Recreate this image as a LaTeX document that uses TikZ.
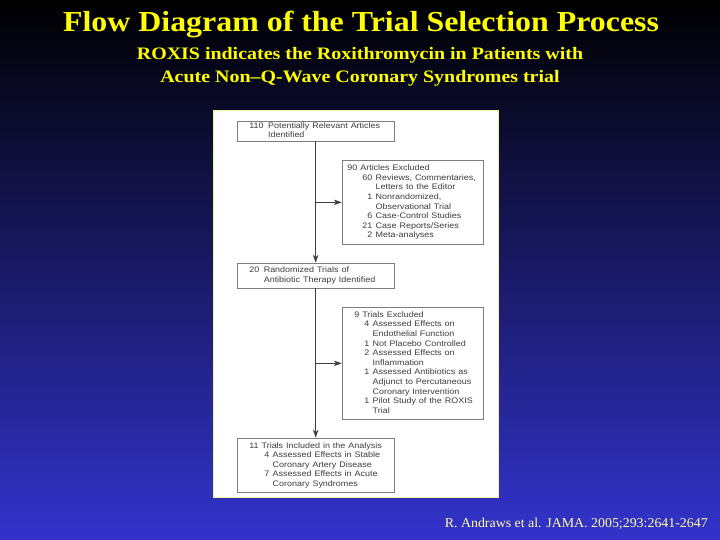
\documentclass[tikz,border=0pt]{standalone}
\usepackage{graphicx}
\usepackage{fontspec}
\setmainfont{Liberation Serif}
\newfontfamily\boxfont{Liberation Sans}
\usetikzlibrary{arrows.meta,positioning}

\definecolor{slideblue}{RGB}{51,51,204}
\definecolor{titleyellow}{RGB}{255,255,0}
\definecolor{citeyellow}{RGB}{255,255,170}
\definecolor{panelrim}{RGB}{240,240,150}
\definecolor{boxtext}{RGB}{60,60,60}
\definecolor{boxline}{RGB}{125,125,125}

% slide text is stretched sideways
\newcommand{\wide}[2][1.12]{\scalebox{#1}[1]{#2}}

\begin{document}
\begin{tikzpicture}[x=1pt,y=-1pt,
    titletext/.style={text=titleyellow, anchor=base, inner sep=0pt},
    flowbox/.style={draw=boxline, line width=0.7pt, anchor=north west, text=boxtext,
      font=\boxfont\fontsize{8}{9.6}\selectfont, inner ysep=0pt},
    flowarrow/.style={-{Stealth[length=8pt,width=5.5pt]}, draw=boxline!50!black, line width=0.6pt}]

    % Slide background and white panel
    \shade[top color=black, bottom color=slideblue] (0,0) rectangle (720,540);
    \filldraw[draw=panelrim, fill=white, line width=1pt] (213.5,110.5) rectangle (498.5,497.5);

    % Headings
    \node[titletext, font=\bfseries\fontsize{29}{30}\selectfont] (title) at (361,32)
        {\wide[1.1]{Flow Diagram of the Trial Selection Process}};
    \node[titletext, font=\bfseries\fontsize{17.5}{20}\selectfont] (subone) at (360,60)
        {\wide[1.14]{ROXIS indicates the Roxithromycin in Patients with}};
    \node[titletext, font=\bfseries\fontsize{17.5}{20}\selectfont] (subtwo) at (360,83)
        {\wide[1.14]{Acute Non--Q-Wave Coronary Syndromes trial}};
    \node[text=citeyellow, anchor=base east, inner sep=0pt, font=\fontsize{13.5}{15}\selectfont] (cite) at (708,527)
        {\wide[1.03]{R. Andraws et al. JAMA. 2005;293:2641-2647}};

    % Main column
    \node[flowbox, minimum width=157.3pt, minimum height=20pt, inner xsep=12.3pt, text width=132.7pt]
        (found) at (236.7,120.7)
        {\noindent\wide{\begin{tabular}{@{}r@{\hspace{4pt}}l@{}}
          110 & Potentially Relevant Articles\\
              & Identified
        \end{tabular}}};
    \node[flowbox, minimum width=157.3pt, minimum height=25pt, inner xsep=12.3pt, text width=132.7pt]
        (randomized) at (236.7,262.7)
        {\noindent\wide{\begin{tabular}{@{}r@{\hspace{4pt}}l@{}}
          20 & Randomized Trials of\\
             & Antibiotic Therapy Identified
        \end{tabular}}};
    \node[flowbox, minimum width=157.3pt, minimum height=54.6pt, inner xsep=12.3pt, text width=132.7pt]
        (included) at (236.7,437.7)
        {\noindent\wide{\begin{tabular}{@{}p{13.4pt}@{}r@{\hspace{3pt}}l@{}}
          \multicolumn{3}{@{}l@{}}{11 Trials Included in the Analysis}\\
          & 4 & Assessed Effects in Stable\\
          &   & Coronary Artery Disease\\
          & 7 & Assessed Effects in Acute\\
          &   & Coronary Syndromes
        \end{tabular}}};

    % Exclusion boxes
    \node[flowbox, minimum width=141pt, minimum height=84pt, inner xsep=5.3pt, text width=130.4pt]
        (articlesout) at (341.7,160)
        {\noindent\wide{\begin{tabular}{@{}p{13.4pt}@{}r@{\hspace{3pt}}l@{}}
          \multicolumn{3}{@{}l@{}}{90 Articles Excluded}\\
          & 60 & Reviews, Commentaries,\\
          &    & Letters to the Editor\\
          &  1 & Nonrandomized,\\
          &    & Observational Trial\\
          &  6 & Case-Control Studies\\
          & 21 & Case Reports/Series\\
          &  2 & Meta-analyses
        \end{tabular}}};
    \node[flowbox, minimum width=141pt, minimum height=112.6pt, inner xsep=12.3pt, text width=116.4pt]
        (trialsout) at (341.7,306.7)
        {\noindent\wide{\begin{tabular}{@{}p{8.9pt}@{}r@{\hspace{3pt}}l@{}}
          \multicolumn{3}{@{}l@{}}{9 Trials Excluded}\\
          & 4 & Assessed Effects on\\
          &   & Endothelial Function\\
          & 1 & Not Placebo Controlled\\
          & 2 & Assessed Effects on\\
          &   & Inflammation\\
          & 1 & Assessed Antibiotics as\\
          &   & Adjunct to Percutaneous\\
          &   & Coronary Intervention\\
          & 1 & Pilot Study of the ROXIS\\
          &   & Trial
        \end{tabular}}};

    % Connectors
    \draw[flowarrow] (found.south) -- (randomized.north);
    \draw[flowarrow] (randomized.south) -- (included.north);
    \draw[flowarrow] (articlesout.west -| found.south) -- (articlesout.west);
    \draw[flowarrow] (trialsout.west -| randomized.south) -- (trialsout.west);
\end{tikzpicture}
\end{document}
